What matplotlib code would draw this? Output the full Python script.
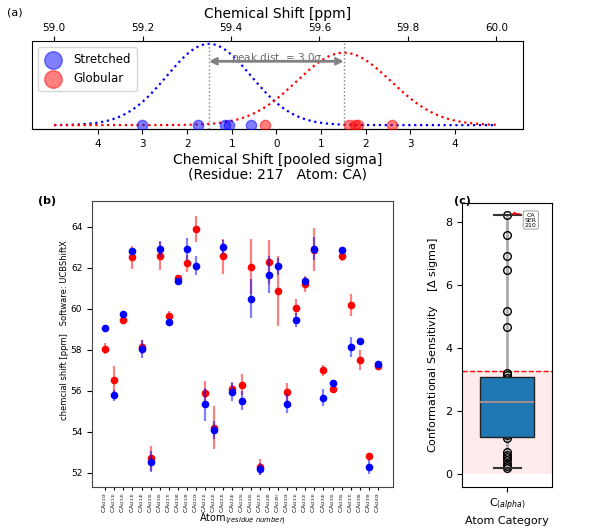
import numpy as np
import matplotlib
matplotlib.use("Agg")
import matplotlib.pyplot as plt
from matplotlib.ticker import FuncFormatter

# ---------------- data ----------------
# Panel (a): residue 217, atom CA, individual chemical shifts [ppm]
stretched_ppm = [59.198, 59.326, 59.387, 59.395, 59.445]
globular_ppm = [59.477, 59.666, 59.681, 59.688, 59.764]

# Panel (b): residues and mean/error for each state
residues = list(range(210, 241))
glob_mean = [58.04, 56.54, 59.43, 62.50, 58.13, 52.70, 62.55, 59.65, 61.50, 62.20,
             63.90, 55.90, 54.20, 62.55, 56.06, 56.29, 62.05, 52.28, 62.27, 60.87,
             55.93, 60.05, 61.21, 62.87, 56.99, 56.09, 62.58, 60.16, 57.48, 52.83, 57.19]
glob_err = [0.27, 0.65, 0.15, 0.56, 0.35, 0.60, 0.68, 0.24, 0.08, 0.40,
            0.64, 0.56, 1.05, 0.85, 0.32, 0.50, 1.35, 0.40, 1.06, 1.70,
            0.45, 0.40, 0.40, 1.06, 0.27, 0.15, 0.28, 0.54, 0.48, 0.10, 0.10]
str_mean = [59.05, 55.78, 59.72, 62.80, 58.04, 52.54, 62.90, 59.35, 61.33, 62.90,
            62.10, 55.33, 54.09, 63.00, 55.95, 55.51, 60.47, 52.18, 61.66, 62.06,
            55.37, 59.45, 61.34, 62.92, 55.66, 56.35, 62.84, 58.14, 58.40, 52.27, 57.30]
str_err = [0.16, 0.27, 0.12, 0.10, 0.45, 0.50, 0.39, 0.10, 0.15, 0.53,
           0.46, 0.80, 0.45, 0.35, 0.45, 0.48, 0.95, 0.28, 0.90, 0.40,
           0.46, 0.35, 0.22, 0.56, 0.43, 0.16, 0.16, 0.48, 0.10, 0.35, 0.10]
tick_labels_b = [f"CA$_{{({r})}}$" for r in residues]

# Panel (c): conformational sensitivity values [delta sigma]
sensitivity = [8.22, 7.59, 6.92, 6.47, 5.17, 4.67, 3.21, 3.16,
               3.04, 2.96, 2.85, 2.74, 2.63, 2.55, 2.41, 2.28, 2.12, 1.98, 1.85, 1.70, 1.52, 1.38, 1.25,
               1.14, 0.72, 0.62, 0.55, 0.45, 0.33, 0.27, 0.19]
threshold = 3.29

# ---------------- figure ----------------
fig = plt.figure(figsize=(6.0, 5.28), dpi=100)

# ===== Panel (a) =====
axa = fig.add_axes([0.0533, 0.7557, 0.818, 0.1667])
s_arr = np.array(stretched_ppm)
g_arr = np.array(globular_ppm)
mu_s, sd_s = s_arr.mean(), s_arr.std(ddof=1)
mu_g, sd_g = g_arr.mean(), g_arr.std(ddof=1)
pooled = np.sqrt((sd_s**2 + sd_g**2) / 2)
mid = (mu_s + mu_g) / 2

xs = np.linspace(59.0, 60.0, 400)
pdf_s = np.exp(-0.5 * ((xs - mu_s) / sd_s) ** 2) / (sd_s * np.sqrt(2 * np.pi))
pdf_g = np.exp(-0.5 * ((xs - mu_g) / sd_g) ** 2) / (sd_g * np.sqrt(2 * np.pi))
axa.plot(xs, pdf_s, ls=':', color='blue', lw=1.6)
axa.plot(xs, pdf_g, ls=':', color='red', lw=1.6)
axa.scatter(stretched_ppm, np.zeros(len(stretched_ppm)), s=55, color='blue', alpha=0.5,
            label='Stretched', zorder=3)
axa.scatter(globular_ppm, np.zeros(len(globular_ppm)), s=55, color='red', alpha=0.5,
            label='Globular', zorder=3)
axa.axvline(mu_s, color='gray', ls=':', lw=1)
axa.axvline(mu_g, color='gray', ls=':', lw=1)
dist = (mu_g - mu_s) / pooled
axa.text(mid, 3.47, f"peak dist. = {dist:.1f}$\\sigma$", ha='center', va='center',
         fontsize=7.5, color='dimgray')
axa.annotate('', xy=(mu_s, 3.3), xytext=(mu_g, 3.3),
             arrowprops=dict(arrowstyle='<->', color='gray', lw=2, shrinkA=0, shrinkB=0))
axa.set_xlim(58.95, 60.06)
axa.set_ylim(-0.2, 4.35)
axa.set_yticks([])
axa.xaxis.tick_top()
axa.xaxis.set_label_position('top')
axa.set_xticks([59.0, 59.2, 59.4, 59.6, 59.8, 60.0])
axa.set_xticklabels(['59.0', '59.2', '59.4', '59.6', '59.8', '60.0'])
axa.tick_params(axis='x', labelsize=7.5, pad=2)
axa.set_xlabel('Chemical Shift [ppm]', fontsize=10, labelpad=4)
sec = axa.secondary_xaxis('bottom', functions=(lambda x: (x - mid) / pooled,
                                               lambda s: mid + s * pooled))
sec.set_xticks([-4, -3, -2, -1, 0, 1, 2, 3, 4])
sec.xaxis.set_major_formatter(FuncFormatter(lambda v, p: f"{abs(int(round(v)))}"))
sec.tick_params(labelsize=7.5)
sec.set_xlabel('Chemical Shift [pooled sigma]\n(Residue: 217   Atom: CA)', fontsize=10,
               labelpad=3, linespacing=1.1)
leg = axa.legend(loc='upper left', fontsize=8.5, markerscale=1.7, handletextpad=0.9,
                 borderpad=0.5, labelspacing=0.55, handlelength=1.6)
fig.text(0.012, 0.985, '(a)', fontsize=8, va='top')

# ===== Panel (b) =====
axb = fig.add_axes([0.1533, 0.0777, 0.5017, 0.5417])
xpos = np.arange(len(residues))
axb.errorbar(xpos, glob_mean, yerr=glob_err, fmt='o', color='red', ms=4.5,
             ecolor=(1, 0, 0, 0.5), elinewidth=1.6, capsize=0, zorder=2)
axb.errorbar(xpos, str_mean, yerr=str_err, fmt='o', color='blue', ms=4.5,
             ecolor=(0, 0, 1, 0.5), elinewidth=1.6, capsize=0, zorder=3)
axb.set_xlim(-1.45, 31.65)
axb.set_ylim(51.3, 65.25)
axb.set_xticks(xpos)
axb.set_xticklabels(tick_labels_b, rotation=90, fontsize=4.2)
axb.set_yticks([52, 54, 56, 58, 60, 62, 64])
axb.tick_params(axis='y', labelsize=6.5)
axb.tick_params(axis='x', length=2, pad=1.5)
axb.set_ylabel('chemcial shift [ppm]   Software: UCBShiftX', fontsize=6)
axb.yaxis.set_label_coords(-0.075, 0.547)
axb.set_xlabel('Atom$_{(residue\\ number)}$', fontsize=7, labelpad=-0.5)
for sp in axb.spines.values():
    sp.set_color('#444444')
fig.text(0.063, 0.628, '(b)', fontsize=8, fontweight='bold', va='top')

# ===== Panel (c) =====
axc = fig.add_axes([0.77, 0.0777, 0.15, 0.5379])
axc.axhspan(0, threshold, color='red', alpha=0.08, lw=0, zorder=0)
axc.axhline(threshold, color='red', ls='--', lw=1, zorder=1)
axc.plot(np.zeros(len(sensitivity)), sensitivity, 'o', mfc='none', mec='black', ms=5.5,
         mew=1, zorder=2)
bp = axc.boxplot([sensitivity], positions=[0], widths=0.61, whis=(0, 100), patch_artist=True,
                 showfliers=False, zorder=3)
for b in bp['boxes']:
    b.set_facecolor('#1f77b4')
    b.set_edgecolor('#222222')
    b.set_linewidth(1)
for m in bp['medians']:
    m.set_color('#a08c8c')
    m.set_linewidth(1.5)
for w in bp['whiskers']:
    w.set_color('#aaaaaa')
    w.set_linewidth(2)
    w.set_zorder(1.5)
for c in bp['caps']:
    c.set_color('#333333')
    c.set_linewidth(1.5)
    c.set_xdata([-0.15, 0.15])
axc.annotate('CA\nSER\n210', xy=(0.02, max(sensitivity)), xytext=(0.265, 8.06),
             fontsize=4.5, ha='center', va='center', linespacing=1.0,
             bbox=dict(boxstyle='round,pad=0.25', fc='white', ec='#aaaaaa', lw=0.8),
             arrowprops=dict(arrowstyle='->', color='red', lw=0.9,
                             connectionstyle='arc3,rad=0.3'), zorder=5)
axc.set_xlim(-0.5, 0.5)
axc.set_ylim(-0.4, 8.6)
axc.set_xticks([0])
axc.set_xticklabels(['C$_{(alpha)}$'], fontsize=8)
axc.set_yticks([0, 2, 4, 6, 8])
axc.tick_params(axis='y', labelsize=8)
axc.set_xlabel('Atom Category', fontsize=8, labelpad=2)
axc.set_ylabel('Conformational Sensitivity    [$\\Delta$ sigma]', fontsize=8)
fig.text(0.757, 0.628, '(c)', fontsize=8, fontweight='bold', va='top')

fig.savefig('out.png', dpi=100)
